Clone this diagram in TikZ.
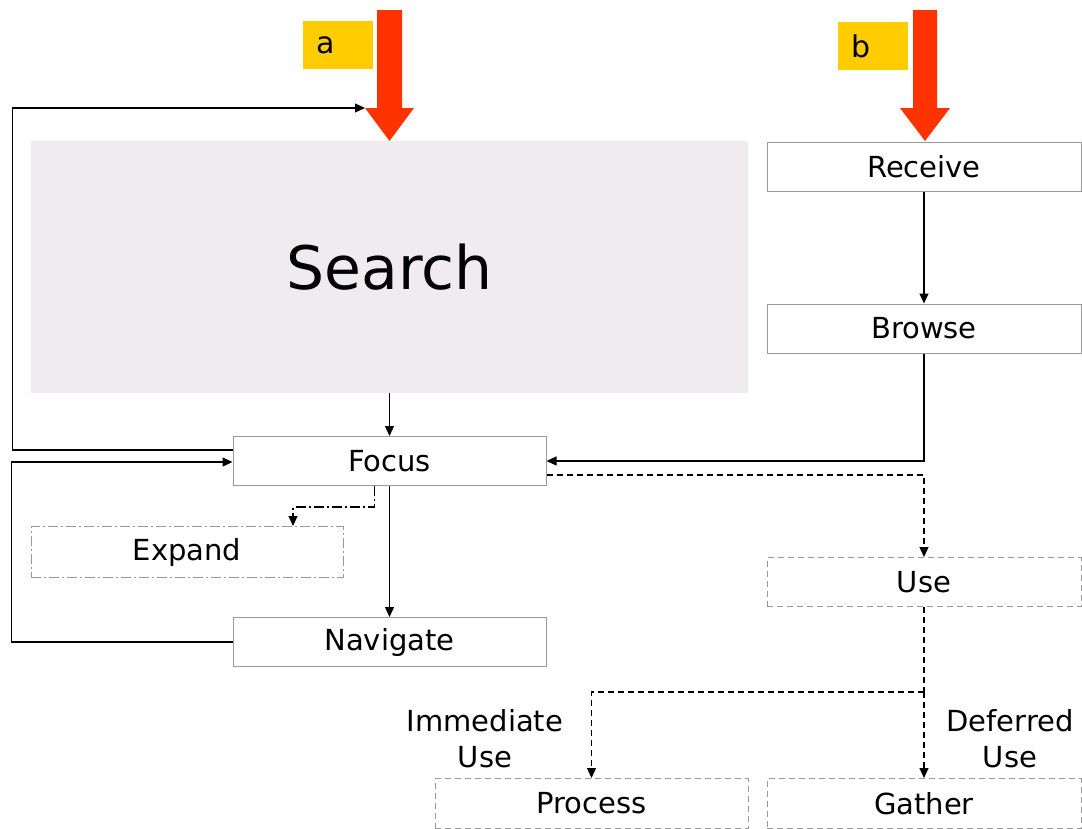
\documentclass[tikz,border=0pt]{standalone}
\usepackage{fontspec}
\setmainfont{DejaVu Sans}
\usetikzlibrary{arrows.meta}
\definecolor{searchgray}{HTML}{EFEBEF}
\definecolor{boxgray}{HTML}{999999}
\definecolor{tagyellow}{HTML}{FFCC00}
\definecolor{bigred}{HTML}{FF3300}

\begin{document}
\begin{tikzpicture}[x=1pt,y=-1pt,
	box/.style={draw=boxgray,line width=1pt,minimum width=313pt,minimum height=49pt,inner sep=0pt,font=\fontsize{29}{36}\selectfont},
	dashbox/.style={box,dash pattern=on 6pt off 4pt},
	dotbox/.style={box,dash pattern=on 10pt off 3pt on 2pt off 3pt},
	tag/.style={fill=tagyellow,anchor=west,minimum height=48pt,text width=44pt,inner xsep=13pt,inner ysep=0pt,font=\fontsize{30}{36}\selectfont},
	conn/.style={line width=1.2pt,-{Triangle[length=10pt,width=9pt]}},
	dconn/.style={conn,dash pattern=on 6pt off 4pt},
	ddconn/.style={conn,dash pattern=on 10pt off 3pt on 2pt off 3pt}]
	
	\useasboundingbox (0,0) rectangle (1082,828);
	
	% entry points
	\node[tag] (taga) at (303,45) {a};
	\node[tag] (tagb) at (838,46) {b};
	\fill[bigred] (377,10) -- (402,10) -- (402,108) -- (414,108) -- (389.5,141) -- (365,108) -- (377,108) -- cycle;
	\fill[bigred] (913,10) -- (937,10) -- (937,108) -- (950,108) -- (925,141) -- (900,108) -- (913,108) -- cycle;
	\coordinate (heada) at (365,108);
	
	% search block
	\node[fill=searchgray,minimum width=717pt,minimum height=252pt,inner sep=0pt,font=\fontsize{60}{72}\selectfont] (search) at (389.5,267) {Search};
	
	% boxes
	\node[box,minimum width=314pt] (receive) at (924,167) {Receive};
	\node[box,minimum width=314pt] (browse) at (924,328.5) {Browse};
	\node[box] (focus) at (389.5,461) {Focus};
	\node[dotbox,minimum width=312pt,minimum height=51pt] (expand) at (187,552) {Expand};
	\node[box] (navigate) at (389.5,642) {Navigate};
	\node[dashbox,minimum width=314pt] (use) at (924,582) {Use};
	\node[dashbox,minimum height=50pt] (process) at (591.5,803.5) {Process};
	\node[dashbox,minimum width=314pt,minimum height=50pt] (gather) at (924,803.5) {Gather};
	
	\node[align=center,font=\fontsize{29}{36}\selectfont] (immlabel) at (485,739) {Immediate\\Use};
	\node[align=center,font=\fontsize{29}{36}\selectfont] (deflabel) at (1010,739) {Deferred\\Use};
	
	% connectors
	\draw[conn] (search.south) -- (focus.north);
	\draw[conn] ([yshift=11pt]focus.west) -- ++(-220,0) |- (heada);
	\draw[conn] (navigate.west) -- ++(-221,0) |- ([yshift=-1pt]focus.west);
	\draw[conn] (receive.south) -- (browse.north);
	\draw[conn] (browse.south) |- (focus.east);
	\draw[dconn] ([yshift=-14pt]focus.east) -| (use.north);
	\draw[ddconn] ([xshift=-15pt]focus.south) -- ++(0,21) -| ([xshift=106pt]expand.north);
	\draw[conn] (focus.south) -- (navigate.north);
	
	\coordinate (split) at (924,692);
	\draw[line width=1.2pt,dash pattern=on 6pt off 4pt] (use.south) -- (split);
	\draw[dconn] (split) -| (process.north);
	\draw[dconn] (split) -- (gather.north);
	
\end{tikzpicture}
\end{document}
